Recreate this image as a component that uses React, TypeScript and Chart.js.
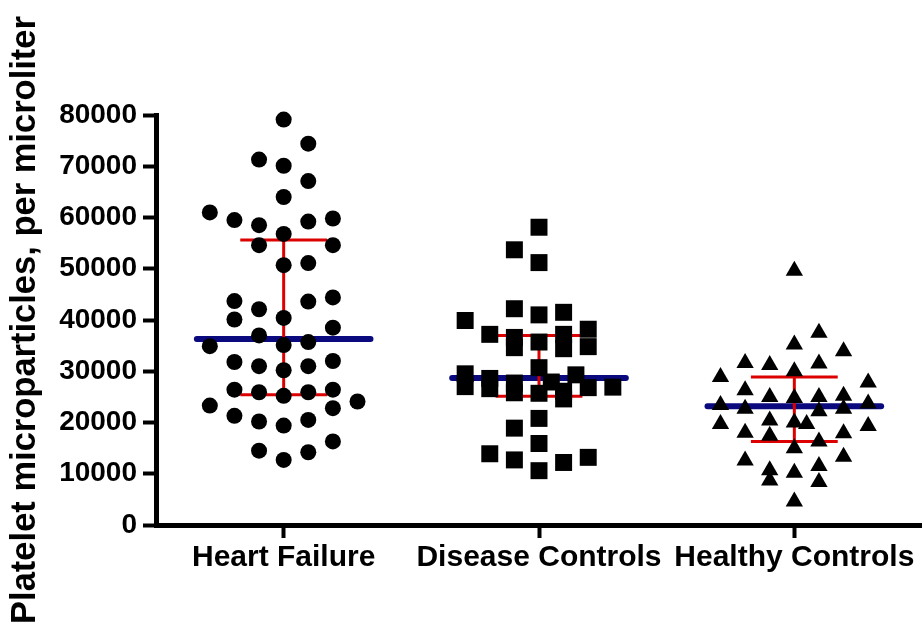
import React, { useEffect, useRef } from 'react';
import { Chart, registerables } from 'chart.js';

Chart.register(...registerables);

const categories = ['Heart Failure', 'Disease Controls', 'Healthy Controls'];
const yTicks = [0, 10000, 20000, 30000, 40000, 50000, 60000, 70000, 80000];
const yTitle = 'Platelet microparticles, per microliter';

// Heart Failure: values and jitter column (slot) of each point
const heartFailureValues = [
  79100, 74400, 71300, 70100, 67100, 64000, 61000, 59500, 58500, 59200, 59800, 56800,
  54600, 54600, 50700, 51100, 43700, 42100, 43600, 44400, 40100, 40400, 38500, 37000,
  34900, 35100, 35700, 31800, 31000, 30200, 31000, 32000, 26400, 25900, 25200, 25900,
  26400, 24100, 23300, 21300, 20200, 19400, 20500, 22800, 14500, 12700, 14200, 16300,
];
const heartFailureSlots = [
  0, 1, -1, 0, 1, 0, -3, -2, -1, 1, 2, 0,
  -1, 2, 0, 1, -2, -1, 1, 2, -2, 0, 2, -1,
  -3, 0, 1, -2, -1, 0, 1, 2, -2, -1, 0, 1,
  2, 3, -3, -2, -1, 0, 1, 2, -1, 0, 1, 2,
];

const diseaseControlValues = [
  58100, 53700, 51200, 42200, 41000, 41500, 39900, 37200, 36600, 34600, 35700, 37200,
  34400, 38200, 34800, 29500, 27000, 28600, 26600, 27700, 25800, 30700, 27900, 29300,
  25700, 26100, 24600, 26800, 26900, 18900, 20800, 13900, 12700, 15900, 10600, 12200, 13200,
];
const diseaseControlSlots = [
  0, -1, 0, -1, 0, 1, -3, -2, -1, -1, 0, 1,
  1, 2, 2, -3, -3, -2, -2, -1, -1, 0, 0.5, 1.5,
  0, 1, 1, 2, 3, -1, 0, -2, -1, 0, 0, 1, 2,
];

const healthyControlValues = [
  49600, 37500, 35200, 33900, 31600, 31200, 31500, 28900, 30000, 27800, 26300, 25000,
  24800, 25000, 25200, 23400, 22700, 23700, 22200, 22700, 19700, 20400, 20000, 19700,
  19300, 18000, 17400, 17900, 16300, 15000, 12600, 13300, 10700, 10200, 11500, 8700,
  8400, 4600,
];
const healthyControlSlots = [
  0, 1, 0, 2, -2, -1, 1, -3, 0, 3, -2, -1,
  0, 1, 2, -3, -2, 3, 1, 2, -3, -1, 0, 0.5,
  3, -2, -1, 2, 1, 0, -2, 2, -1, 0, 1, -1,
  1, 0,
];

// Summary lines: center (blue) and whiskers (red)
const centerLines = [36300, 28700, 23150];
const upperWhiskers = [55600, 37000, 28900];
const lowerWhiskers = [25400, 25100, 16300];

const JITTER = 0.0964;
const CENTER_HALF = 0.34;
const WHISKER_HALF = 0.17;
const RED = '#dd0000';
const NAVY = '#0a0a7e';
const FONT = "'Liberation Sans', Arial, Helvetica, sans-serif";

export default function App() {
  const canvasRef = useRef<HTMLCanvasElement | null>(null);

  useEffect(() => {
    const canvas = canvasRef.current;
    if (!canvas) return;

    const groups = [
      { values: heartFailureValues, slots: heartFailureSlots, style: 'circle', radius: 8 },
      { values: diseaseControlValues, slots: diseaseControlSlots, style: 'rect', radius: 12 },
      { values: healthyControlValues, slots: healthyControlSlots, style: 'triangle', radius: 10 },
    ];

    const datasets: any[] = [];
    groups.forEach((g, gi) => {
      datasets.push({
        label: categories[gi],
        data: g.values.map((v, i) => ({ x: gi + 1 + g.slots[i] * JITTER, y: v })),
        pointStyle: g.style,
        pointRadius: g.radius,
        pointHoverRadius: g.radius,
        backgroundColor: '#000',
        borderColor: '#000',
        pointBorderWidth: 0,
        showLine: false,
        clip: false,
        order: 1,
      });
    });

    const lineDs = (data: { x: number; y: number }[], color: string, width: number, cap: string) => ({
      data,
      showLine: true,
      borderColor: color,
      backgroundColor: color,
      borderWidth: width,
      borderCapStyle: cap,
      pointRadius: 0,
      pointHoverRadius: 0,
      clip: false,
      order: 2,
    });

    categories.forEach((_, ci) => {
      const c = ci + 1;
      datasets.push(lineDs([{ x: c, y: lowerWhiskers[ci] }, { x: c, y: upperWhiskers[ci] }], RED, 3, 'butt'));
      datasets.push(lineDs([{ x: c - WHISKER_HALF, y: upperWhiskers[ci] }, { x: c + WHISKER_HALF, y: upperWhiskers[ci] }], RED, 3, 'butt'));
      datasets.push(lineDs([{ x: c - WHISKER_HALF, y: lowerWhiskers[ci] }, { x: c + WHISKER_HALF, y: lowerWhiskers[ci] }], RED, 3, 'butt'));
      datasets.push(lineDs([{ x: c - CENTER_HALF, y: centerLines[ci] }, { x: c + CENTER_HALF, y: centerLines[ci] }], NAVY, 6, 'round'));
    });

    const chart = new Chart(canvas, {
      type: 'scatter',
      data: { datasets },
      options: {
        responsive: false,
        animation: false,
        events: [],
        layout: { autoPadding: false, padding: { top: 115, left: 0, right: 0, bottom: 0 } },
        plugins: {
          legend: { display: false },
          title: { display: false },
          tooltip: { enabled: false },
        },
        scales: {
          x: {
            type: 'linear',
            min: 0.5,
            max: 3.5,
            afterBuildTicks: (scale: any) => {
              scale.ticks = categories.map((_, i) => ({ value: i + 1 }));
            },
            afterFit: (scale: any) => {
              scale.height = 101;
              scale.paddingLeft = 0;
              scale.paddingRight = 0;
            },
            grid: {
              drawOnChartArea: false,
              drawTicks: true,
              tickLength: 13,
              tickWidth: 4,
              tickColor: '#000',
            },
            border: { display: true, color: '#000', width: 5 },
            ticks: {
              autoSkip: false,
              maxRotation: 0,
              minRotation: 0,
              padding: 2,
              color: '#000',
              font: { family: FONT, size: 30, weight: 'bold' },
              callback: (v: any) => categories[Math.round(Number(v)) - 1] ?? '',
            },
          },
          y: {
            type: 'linear',
            min: 0,
            max: 80000,
            afterBuildTicks: (scale: any) => {
              scale.ticks = yTicks.map((v) => ({ value: v }));
            },
            afterFit: (scale: any) => {
              scale.width = 156;
            },
            grid: {
              drawOnChartArea: false,
              drawTicks: true,
              tickLength: 13,
              tickWidth: 4,
              tickColor: '#000',
            },
            border: { display: true, color: '#000', width: 5 },
            ticks: {
              padding: 6,
              color: '#000',
              font: { family: FONT, size: 28, weight: 'bold' },
              callback: (v: any) => String(v),
            },
            title: {
              display: true,
              text: yTitle,
              color: '#000',
              padding: { top: 5, bottom: 0 },
              font: { family: FONT, size: 34.5, weight: 'bold' },
            },
          },
        },
      } as any,
    });

    return () => chart.destroy();
  }, []);

  return (
    <div style={{ position: 'fixed', left: 0, top: 0, width: 922, height: 626, background: '#fff' }}>
      <canvas ref={canvasRef} width={922} height={626} style={{ display: 'block' }} />
    </div>
  );
}
